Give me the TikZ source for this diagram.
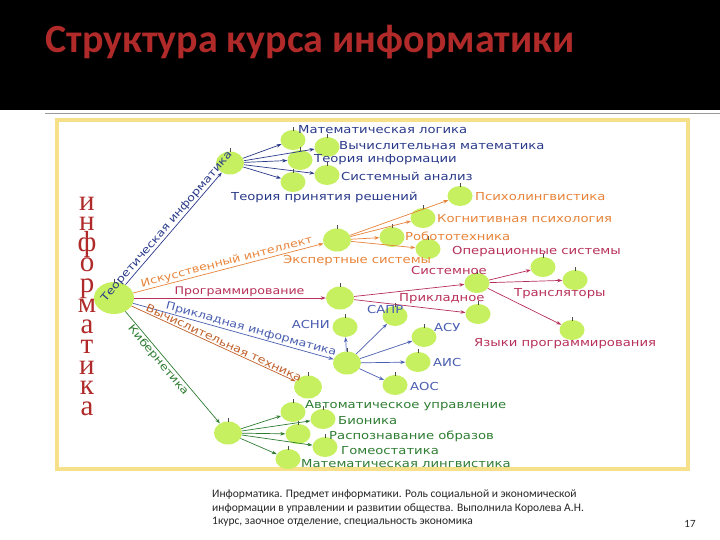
\documentclass[tikz,border=0pt]{standalone}
\usepackage{fontspec}
\setmainfont{DejaVu Sans}
\newfontfamily\titlefont{Carlito}
\newfontfamily\lblfont[FakeStretch=1.2]{DejaVu Sans}
\newfontfamily\serifru{Liberation Serif}
\usetikzlibrary{shapes.geometric,arrows.meta}
\definecolor{applegreen}{HTML}{C6F060}
\definecolor{cth}{HTML}{2A3A8A}
\definecolor{cai}{HTML}{E8843A}
\definecolor{cpr}{HTML}{B8305A}
\definecolor{capp}{HTML}{4A5EB0}
\definecolor{cvt}{HTML}{C0602A}
\definecolor{ccy}{HTML}{2E7D32}
\definecolor{ctitle}{HTML}{B02A2A}
\definecolor{frame}{HTML}{F6E08A}
\begin{document}
\begin{tikzpicture}[x=1pt,y=-1pt,
  apple/.style={ellipse,fill=applegreen,inner sep=0,minimum width=25pt,minimum height=20pt,
    label={[inner sep=0,yshift=-1pt,text=black!70]above:\rule{0.6pt}{4pt}}},
  hub/.style={apple,minimum width=28pt,minimum height=23pt},
  lbl/.style={anchor=west,inner sep=1pt,font=\lblfont\fontsize{11}{11}\selectfont},
  br/.style={line width=0.7pt,-{Stealth[length=5pt,width=3.5pt]}},
  slab/.style={sloped,above,inner sep=1pt,font=\lblfont\fontsize{10.5}{10.5}\selectfont}]
\useasboundingbox (0,0) rectangle (720,540);
\fill[white] (0,0) rectangle (720,540);
\fill[black] (0,0) rectangle (720,110);
\draw[black!40,line width=0.6pt] (45,113) -- (720,113);
\node[anchor=west,text=ctitle,font=\titlefont\bfseries\fontsize{40}{40}\selectfont] (title) at (42,42) {Структура курса информатики};
\draw[frame,line width=4pt] (57,120) rectangle (688,469);
% vertical word
\node[text=ctitle,font=\serifru\fontsize{29}{20.5}\selectfont,align=center,inner sep=0] (word) at (87,306)
 {и\\н\\ф\\о\\р\\м\\а\\т\\и\\к\\а};
% root and hubs
\node[hub,minimum width=40pt,minimum height=32pt] (root) at (114,298) {};
\node[hub] (th) at (230,163) {};
\node[hub] (ai) at (337,240) {};
\node[hub] (pr) at (340,298) {};
\node[hub] (ap) at (347,363) {};
\node[hub] (vt) at (308,387) {};
\node[hub] (cy) at (228,433) {};
\draw[br,cth] (root) -- node[slab,pos=0.48,text=cth] {Теоретическая информатика} (th);
\draw[br,cai] (root) -- node[slab,pos=0.5,text=cai] {Искусственный интеллект} (ai);
\draw[br,cpr] (root) -- node[slab,pos=0.55,text=cpr] {Программирование} (pr);
\draw[br,capp] (root) -- node[slab,pos=0.58,text=capp] {Прикладная информатика} (ap);
\draw[br,cvt] (root) -- node[slab,pos=0.55,text=cvt] {Вычислительная техника} (vt);
\draw[br,ccy] (root) -- node[slab,below,pos=0.4,text=ccy] {Кибернетика} (cy);
% theory
\node[apple] (t1) at (293,140) {};
\node[apple] (t2) at (327,147) {};
\node[apple] (t3) at (300,160) {};
\node[apple] (t4) at (327,175) {};
\node[apple] (t5) at (293,182) {};
\foreach \n in {t1,t2,t3,t4,t5} \draw[br,cth] (th) -- (\n);
\node[lbl,text=cth] (lt1) at (297,130) {Математическая логика};
\node[lbl,text=cth] (lt2) at (338,146) {Вычислительная математика};
\node[lbl,text=cth] (lt3) at (313,160) {Теория информации};
\node[lbl,text=cth] (lt4) at (340,176) {Системный анализ};
\node[lbl,text=cth] (lt5) at (230,197) {Теория принятия решений};
% AI
\node[apple] (a1) at (460,196) {};
\node[apple] (a2) at (423,218) {};
\node[apple] (a3) at (392,237) {};
\node[apple] (a4) at (428,249) {};
\foreach \n in {a1,a2,a3,a4} \draw[br,cai] (ai) -- (\n);
\node[lbl,text=cai] (la1) at (474,197) {Психолингвистика};
\node[lbl,text=cai] (la2) at (436,219) {Когнитивная психология};
\node[lbl,text=cai] (la3) at (404,236) {Робототехника};
\node[lbl,text=cai] (la5) at (282,261) {Экспертные системы};
% programming
\node[apple] (p1) at (477,283) {};
\node[apple] (p2) at (478,314) {};
\draw[br,cpr] (pr) -- (p1);
\draw[br,cpr] (pr) -- (p2);
\node[lbl,text=cpr] (lp1) at (410,270) {Системное};
\node[lbl,text=cpr] (lp2) at (398,299) {Прикладное};
\node[apple] (s1) at (543,267) {};
\node[apple] (s2) at (575,280) {};
\node[apple] (s3) at (572,330) {};
\foreach \n in {s1,s2,s3} \draw[br,cpr] (p1) -- (\n);
\node[lbl,text=cpr] (ls1) at (451,252) {Операционные системы};
\node[lbl,text=cpr] (ls2) at (513,294) {Трансляторы};
\node[lbl,text=cpr] (ls3) at (473,344) {Языки программирования};
% applied
\node[apple] (q1) at (345,327) {};
\node[apple] (q2) at (395,316) {};
\node[apple] (q3) at (424,337) {};
\node[apple] (q4) at (418,362) {};
\node[apple] (q5) at (395,385) {};
\foreach \n in {q1,q2,q3,q4,q5} \draw[br,capp] (ap) -- (\n);
\node[lbl,text=capp,anchor=east] (lq1) at (331,324) {АСНИ};
\node[lbl,text=capp] (lq2) at (366,309) {САПР};
\node[lbl,text=capp] (lq3) at (433,327) {АСУ};
\node[lbl,text=capp] (lq4) at (432,362) {АИС};
\node[lbl,text=capp] (lq5) at (409,386) {АОС};
% cybernetics
\node[apple] (c1) at (293,412) {};
\node[apple] (c2) at (323,419) {};
\node[apple] (c3) at (298,434) {};
\node[apple] (c4) at (325,447) {};
\node[apple] (c5) at (288,459) {};
\foreach \n in {c1,c2,c3,c4,c5} \draw[br,ccy] (cy) -- (\n);
\node[lbl,text=ccy] (lc1) at (304,406) {Автоматическое управление};
\node[lbl,text=ccy] (lc2) at (337,421) {Бионика};
\node[lbl,text=ccy] (lc3) at (328,436) {Распознавание образов};
\node[lbl,text=ccy] (lc4) at (340,451) {Гомеостатика};
\node[lbl,text=ccy] (lc5) at (300,464) {Математическая лингвистика};
% footer
\node[anchor=north west,align=left,inner sep=0,font=\titlefont\fontsize{11.5}{13.5}\selectfont,text=black!85] (foot) at (212,490)
 {Информатика. Предмет информатики. Роль социальной и экономической\\информации в управлении и развитии общества. Выполнила Королева А.Н.\\1курс, заочное отделение, специальность экономика};
\node[font=\titlefont\fontsize{11}{11}\selectfont,text=black!85] (pg) at (690,524) {17};
\end{tikzpicture}
\end{document}
